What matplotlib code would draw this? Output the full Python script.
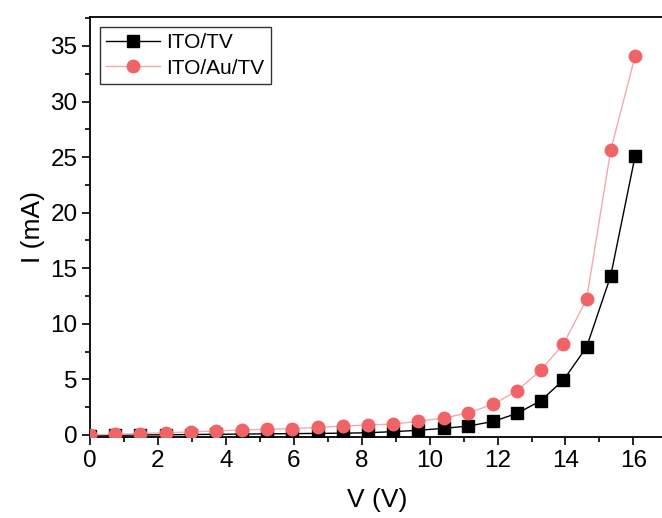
import numpy as np
import matplotlib
matplotlib.use("Agg")
import matplotlib.pyplot as plt
from matplotlib.ticker import MultipleLocator

plt.rcParams["font.family"] = ["Liberation Sans", "DejaVu Sans"]

V = [0, 0.74, 1.48, 2.23, 2.98, 3.72, 4.46, 5.2, 5.95, 6.7, 7.44, 8.18,
     8.93, 9.67, 10.42, 11.14, 11.87, 12.58, 13.27, 13.94, 14.62, 15.33, 16.05]
I_tv = [-0.05, -0.03, 0.0, 0.02, 0.04, 0.06, 0.08, 0.1, 0.12, 0.14, 0.16, 0.2,
        0.3, 0.42, 0.6, 0.8, 1.22, 1.95, 3.08, 4.94, 7.9, 14.3, 25.1]
I_au = [0.0, 0.06, 0.12, 0.2, 0.28, 0.36, 0.45, 0.51, 0.57, 0.68, 0.8, 0.9,
        0.98, 1.24, 1.52, 2.0, 2.76, 3.98, 5.83, 8.17, 12.2, 25.6, 34.1]

fig = plt.figure(figsize=(6.62, 5.18), dpi=100)
ax = fig.add_axes([0.136, 0.156, 0.867, 0.811])

ax.plot(V, I_tv, "-s", color="black", lw=1.0, ms=8, mfc="black",
        mec="black", label="ITO/TV", zorder=2)
ax.plot(V, I_au, "-o", color="#f4a8b0", lw=1.0, ms=9, mfc="#f06468",
        mec="#f06468", label="ITO/Au/TV", zorder=3)

ax.set_xlim(0, 16.9)
ax.set_ylim(-0.2, 37.6)
ax.xaxis.set_major_locator(MultipleLocator(2))
ax.xaxis.set_minor_locator(MultipleLocator(1))
ax.yaxis.set_major_locator(MultipleLocator(5))
ax.yaxis.set_minor_locator(MultipleLocator(2.5))
ax.tick_params(which="major", direction="out", length=6, width=1.2,
               labelsize=17.5, pad=3)
ax.tick_params(which="minor", direction="out", length=3.5, width=1.2)
for s in ax.spines.values():
    s.set_linewidth(1.3)

ax.set_xlabel("V (V)", fontsize=19, labelpad=12)
ax.set_ylabel("I (mA)", fontsize=19, labelpad=4)

leg = ax.legend(loc="upper left", fontsize=15, frameon=True, fancybox=False,
                edgecolor="black", handlelength=2.6, borderpad=0.3,
                labelspacing=0.3, handletextpad=0.3, borderaxespad=0,
                bbox_to_anchor=(0.017, 0.976))
leg.get_frame().set_linewidth(1.0)

fig.savefig("out.png", dpi=100)
